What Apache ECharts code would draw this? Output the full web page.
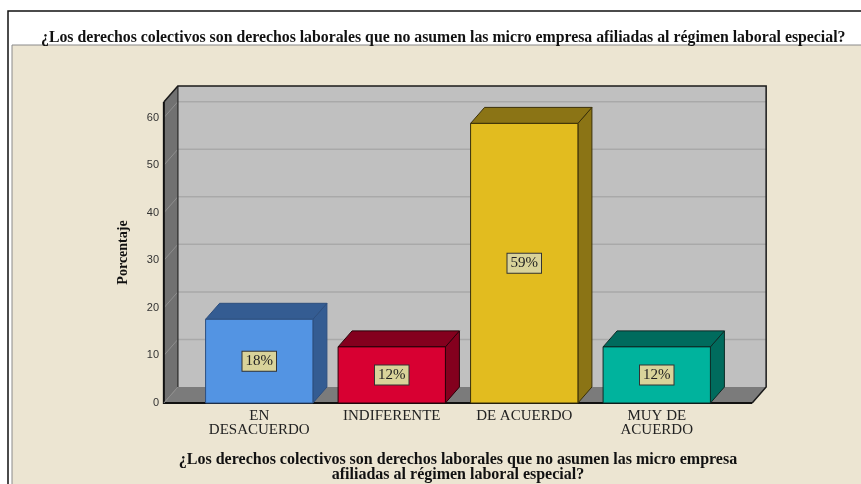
<!DOCTYPE html>
<html>
<head>
<meta charset="utf-8">
<script src="https://cdn.jsdelivr.net/npm/echarts@6/dist/echarts.min.js"></script>
<style>
  html, body { margin: 0; padding: 0; background: #fff; }
  #main { width: 861px; height: 484px; }
</style>
</head>
<body>
<div id="main"></div>
<script>
// datos del grafico
var categorias = ['EN\nDESACUERDO', 'INDIFERENTE', 'DE ACUERDO', 'MUY DE\nACUERDO'];
var porcentajes = [17.6, 11.8, 58.8, 11.8];
var etiquetas = ['18%', '12%', '59%', '12%'];
var ticksY = [10, 20, 30, 40, 50, 60];

var pregunta = '¿Los derechos colectivos son derechos laborales que no asumen las micro empresa afiliadas al régimen laboral especial?';
var preguntaEje = '¿Los derechos colectivos son derechos laborales que no asumen las micro empresa\nafiliadas al régimen laboral especial?';

// colores de las barras (frente, lado/tapa, borde)
var colorFrente = ['#5394e3', '#d80032', '#e2bc1f', '#00b39d'];
var colorLado = ['#345c92', '#84001e', '#8b7415', '#006b5d'];
var colorBorde = ['#2d4f7f', '#2a0008', '#3a3008', '#0d2b26'];

var DX = 14, DY = -16;   // profundidad 3D
var yMax = 63.3;

var myChart = echarts.init(document.getElementById('main'));

// paredes, piso y lineas de rejilla
function renderParedes(params, api) {
    var band = api.size([1, 0])[0];
    var c0 = api.coord([0, 0]);
    var c3 = api.coord([categorias.length - 1, 0]);
    var x0 = c0[0] - band * 0.72;
    var x1 = c3[0] + band * 0.72;
    var yb = c0[1];
    var yt = api.coord([0, yMax])[1];
    var hijos = [];
    // pared del fondo
    hijos.push({ type: 'rect', shape: { x: x0 + DX, y: yt + DY, width: x1 - x0, height: yb - yt },
        style: { fill: '#c0c0c0' } });
    // pared lateral
    hijos.push({ type: 'polygon', shape: { points: [[x0, yb], [x0, yt], [x0 + DX, yt + DY], [x0 + DX, yb + DY]] },
        style: { fill: '#717171' } });
    // piso
    hijos.push({ type: 'polygon', shape: { points: [[x0, yb], [x1, yb], [x1 + DX, yb + DY], [x0 + DX, yb + DY]] },
        style: { fill: '#7b7b7b' } });
    ticksY.forEach(function (v) {
        var y = api.coord([0, v])[1];
        hijos.push({ type: 'line', shape: { x1: x0 + DX, y1: y + DY, x2: x1 + DX, y2: y + DY },
            style: { stroke: '#a9a9a9', lineWidth: 1.5 } });
        hijos.push({ type: 'line', shape: { x1: x0, y1: y, x2: x0 + DX, y2: y + DY },
            style: { stroke: '#8e8e8e', lineWidth: 1 } });
    });
    // bordes
    hijos.push({ type: 'polyline', shape: { points: [[x0 + DX, yb + DY], [x0 + DX, yt + DY]] },
        style: { stroke: '#3a3a3a', lineWidth: 1.5, fill: null } });
    hijos.push({ type: 'polyline', shape: { points: [[x0, yt], [x0 + DX, yt + DY], [x1 + DX, yt + DY], [x1 + DX, yb + DY], [x1, yb]] },
        style: { stroke: '#1a1a1a', lineWidth: 1.5, fill: null } });
    hijos.push({ type: 'polyline', shape: { points: [[x0, yt], [x0, yb], [x1, yb]] },
        style: { stroke: '#111', lineWidth: 2, fill: null } });
    hijos.push({ type: 'line', shape: { x1: x0, y1: yb, x2: x0 + DX, y2: yb + DY },
        style: { stroke: '#8e8e8e', lineWidth: 1 } });
    return { type: 'group', children: hijos };
}

// barras 3D
function renderBarra(params, api) {
    var i = params.dataIndex;
    var cat = api.value(0);
    var val = api.value(1);
    var pt = api.coord([cat, val]);
    var base = api.coord([cat, 0]);
    var w = api.size([1, 0])[0] * 0.81;
    var l = pt[0] - w / 2, r = pt[0] + w / 2, t = pt[1], b = base[1];
    var borde = { stroke: colorBorde[i], lineWidth: 1, lineJoin: 'round' };
    return {
        type: 'group',
        children: [
            { type: 'polygon', shape: { points: [[r, t], [r + DX, t + DY], [r + DX, b + DY], [r, b]] },
              style: Object.assign({ fill: colorLado[i] }, borde) },
            { type: 'polygon', shape: { points: [[l, t], [l + DX, t + DY], [r + DX, t + DY], [r, t]] },
              style: Object.assign({ fill: colorLado[i] }, borde) },
            { type: 'rect', shape: { x: l, y: t, width: w, height: b - t },
              style: Object.assign({ fill: colorFrente[i] }, borde) },
            { type: 'text', x: pt[0], y: (t + b) / 2,
              style: { text: etiquetas[i], align: 'center', verticalAlign: 'middle',
                       font: '15px "Liberation Serif"', fill: '#222',
                       backgroundColor: '#d9d39a', borderColor: '#333', borderWidth: 1,
                       padding: [2, 3, 2, 3] } }
        ]
    };
}

var datosBarras = porcentajes.map(function (v, i) { return [i, v]; });

option = {
    backgroundColor: '#ffffff',
    animation: false,
    title: {
        text: pregunta,
        left: 36,
        top: 25,
        textStyle: { fontFamily: 'Liberation Serif', fontWeight: 'bold', fontSize: 15.8, color: '#111' }
    },
    graphic: [
        { type: 'rect', z: -10, shape: { x: 8, y: 11, width: 870, height: 490 },
          style: { fill: '#ffffff', stroke: '#111', lineWidth: 1.5 } },
        { type: 'rect', z: -9, shape: { x: 12, y: 45, width: 870, height: 460 },
          style: { fill: '#ece5d2', stroke: '#8a8a8a', lineWidth: 1 } }
    ],
    grid: { left: 193, right: 138, top: 102, bottom: 81, outerBoundsMode: 'none' },
    xAxis: {
        type: 'category',
        data: categorias,
        axisLine: { show: false },
        axisTick: { show: false },
        axisLabel: {
            margin: 6,
            interval: 0,
            fontFamily: 'Liberation Serif',
            fontSize: 15,
            lineHeight: 14,
            color: '#222'
        },
        name: preguntaEje,
        nameLocation: 'middle',
        nameGap: 49,
        nameTextStyle: {
            fontFamily: 'Liberation Serif', fontWeight: 'bold', fontSize: 16,
            lineHeight: 15, color: '#111', verticalAlign: 'top'
        }
    },
    yAxis: {
        type: 'value',
        min: 0,
        max: yMax,
        interval: 10,
        splitLine: { show: false },
        axisLine: { show: false },
        axisTick: { show: false },
        axisLabel: {
            margin: 34,
            fontFamily: 'Liberation Sans',
            fontSize: 11,
            color: '#333',
            formatter: function (v) { return v % 10 === 0 ? v : ''; }
        },
        name: 'Porcentaje',
        nameLocation: 'middle',
        nameGap: 63,
        nameTextStyle: { fontFamily: 'Liberation Serif', fontWeight: 'bold', fontSize: 14, color: '#111' }
    },
    series: [
        {
            type: 'custom',
            name: 'paredes',
            data: [[0, 0]],
            clip: false,
            z: 1,
            silent: true,
            renderItem: renderParedes
        },
        {
            type: 'custom',
            name: 'Porcentaje',
            data: datosBarras,
            clip: false,
            z: 2,
            renderItem: renderBarra
        }
    ]
};
myChart.setOption(option);
</script>
</body>
</html>
